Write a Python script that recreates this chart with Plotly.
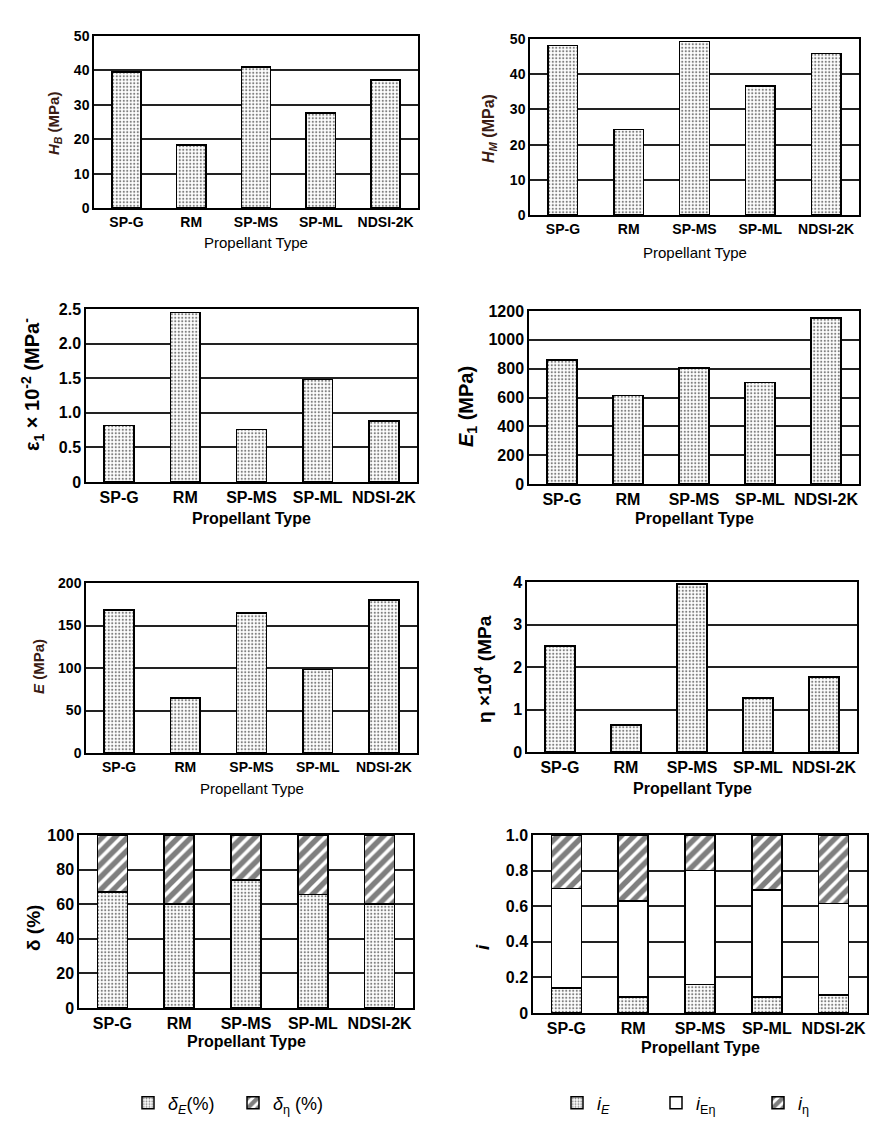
import plotly.graph_objects as go

W, H = 891, 1123

categories = ["SP-G", "RM", "SP-MS", "SP-ML", "NDSI-2K"]

hb_values = [39.5, 18.3, 41.0, 27.6, 37.2]
hm_values = [48.2, 24.3, 49.3, 36.6, 45.9]
eps1_values = [0.82, 2.45, 0.76, 1.48, 0.88]
e1_values = [860, 615, 805, 705, 1150]
e_values = [168, 65, 165, 98, 180]
eta_values = [2.50, 0.63, 3.95, 1.27, 1.77]

delta_e = [67, 60, 74, 65.5, 60]
delta_eta = [33, 40, 26, 34.5, 40]

i_e = [0.14, 0.09, 0.16, 0.09, 0.10]
i_eeta = [0.56, 0.54, 0.64, 0.60, 0.515]
i_eta = [0.30, 0.37, 0.20, 0.31, 0.385]

FONT = "Liberation Sans, Arial, sans-serif"
BROWN = "#3a1c14"

DOT = dict(shape=".", fgcolor="black", bgcolor="white", size=3.5, solidity=0.3)
HATCH = dict(shape="/", fgcolor="black", bgcolor="white", size=9, solidity=0.6)
NONE = dict(shape="", fgcolor="black", bgcolor="white")

# panel pixel boxes: x0, x1, y0(top), y1(bottom)
panels = [
    (94, 418, 36, 208),
    (530, 859, 39, 215),
    (86, 417, 309, 482),
    (529, 859, 311, 484),
    (86, 417, 583, 753),
    (527, 857, 582, 752),
    (79, 413, 835, 1008),
    (533, 867, 835, 1013),
]

yranges = [(0, 50, 10), (0, 50, 10), (0, 2.5, 0.5), (0, 1200, 200),
           (0, 200, 50), (0, 4, 1), (0, 100, 20), (0, 1.0, 0.2)]
decimal_ticks = [False, False, True, False, False, False, False, True]
tick_sizes = [14, 14, 16, 16, 14, 16, 16, 16]

fig = go.Figure()

def add_bar(idx, y, name, pattern, legend="legend", showlegend=False):
    ax = "" if idx == 0 else str(idx + 1)
    fig.add_trace(go.Bar(
        x=categories, y=y, name=name,
        xaxis="x" + ax, yaxis="y" + ax,
        width=0.45,
        marker=dict(color="white", pattern=pattern, line=dict(color="black", width=1.5)),
        showlegend=showlegend,
        legend=legend,
    ))

add_bar(0, hb_values, "HB", DOT)
add_bar(1, hm_values, "HM", DOT)
add_bar(2, eps1_values, "eps1", DOT)
add_bar(3, e1_values, "E1", DOT)
add_bar(4, e_values, "E", DOT)
add_bar(5, eta_values, "eta", DOT)
add_bar(6, delta_e, "<i>δ<sub>E</sub></i>(%)", DOT, "legend", True)
add_bar(6, delta_eta, "<i>δ</i><sub>η</sub> (%)", HATCH, "legend2", True)
add_bar(7, i_e, "<i>i<sub>E</sub></i>", DOT, "legend3", True)
add_bar(7, i_eeta, "<i>i</i><sub>Eη</sub>", NONE, "legend4", True)
add_bar(7, i_eta, "<i>i</i><sub>η</sub>", HATCH, "legend5", True)

LEGFONT = dict(size=18, family=FONT, color="black")
legend_x = [128, 233, 557, 656, 758]

layout = dict(
    width=W, height=H,
    margin=dict(l=0, r=0, t=0, b=0, pad=0, autoexpand=False),
    paper_bgcolor="white", plot_bgcolor="white",
    barmode="stack",
    font=dict(family=FONT, color="black", size=13),
)
for k, lx in enumerate(legend_x):
    key = "legend" if k == 0 else f"legend{k + 1}"
    layout[key] = dict(orientation="h", x=lx / W, y=1 - 1103 / H, xanchor="left", yanchor="middle",
                       font=LEGFONT, bgcolor="rgba(0,0,0,0)")

for i, (x0, x1, y0, y1) in enumerate(panels):
    ax = "" if i == 0 else str(i + 1)
    lo, hi, dt = yranges[i]
    tf = dict(size=tick_sizes[i], family=FONT, color="black", weight="bold")
    layout["xaxis" + ax] = dict(
        domain=[x0 / W, x1 / W], anchor="y" + ax,
        showline=True, mirror=True, linecolor="black", linewidth=1.5,
        ticks="", showgrid=False, tickfont=tf,
        categoryorder="array", categoryarray=categories,
    )
    yd = dict(
        domain=[1 - y1 / H, 1 - y0 / H], anchor="x" + ax,
        range=[lo, hi], dtick=dt, tick0=0,
        showline=True, mirror=True, linecolor="black", linewidth=1.5,
        showgrid=True, gridcolor="#222222", gridwidth=1.5,
        zeroline=False, ticks="", tickfont=tf,
    )
    if decimal_ticks[i]:
        n = int(round((hi - lo) / dt))
        yd["tickmode"] = "array"
        yd["tickvals"] = [k * dt for k in range(n + 1)]
        yd["ticktext"] = ["0"] + [f"{k * dt:.1f}" for k in range(1, n + 1)]
    layout["yaxis" + ax] = yd

fig.update_layout(**layout)

# x-axis titles
xtitle_y = [243, 252, 518, 519, 788, 788, 1041, 1047]
xtitle_bold = [False, False, True, True, False, True, True, True]
for i, (x0, x1, y0, y1) in enumerate(panels):
    fig.add_annotation(
        text="Propellant Type", xref="paper", yref="paper",
        x=(x0 + x1) / 2 / W, y=1 - xtitle_y[i] / H, xanchor="center", yanchor="middle",
        showarrow=False,
        font=dict(size=15 if not xtitle_bold[i] else 16, family=FONT, color="black",
                  weight="bold" if xtitle_bold[i] else "normal"),
    )

# y-axis titles
ytitles = [
    ("<i>H<sub>B</sub></i> (MPa)", 55, 124, 15, BROWN, "bold"),
    ("<i>H<sub>M</sub></i> (MPa)", 490, 129, 16, BROWN, "bold"),
    ("ε<sub>1</sub> × 10<sup>-2</sup> (MPa<sup>-</sup>", 32, 385, 20, "black", "bold"),
    ("<i>E</i><sub>1</sub> (MPa)", 468, 407, 20, "black", "bold"),
    ("<i>E</i> (MPa)", 38, 667, 15, BROWN, "bold"),
    ("η ×10<sup>4</sup> (MPa", 483, 669, 19, "black", "bold"),
    ("δ (%)", 33, 928, 19, "black", "bold"),
    ("<i>i</i>", 482, 947, 19, "black", "bold"),
]
for text, x, y, size, color, weight in ytitles:
    fig.add_annotation(
        text=text, xref="paper", yref="paper", x=x / W, y=1 - y / H,
        xanchor="center", yanchor="middle", textangle=-90, showarrow=False,
        font=dict(size=size, family=FONT, color=color, weight=weight),
    )

fig.write_html("out.html")
